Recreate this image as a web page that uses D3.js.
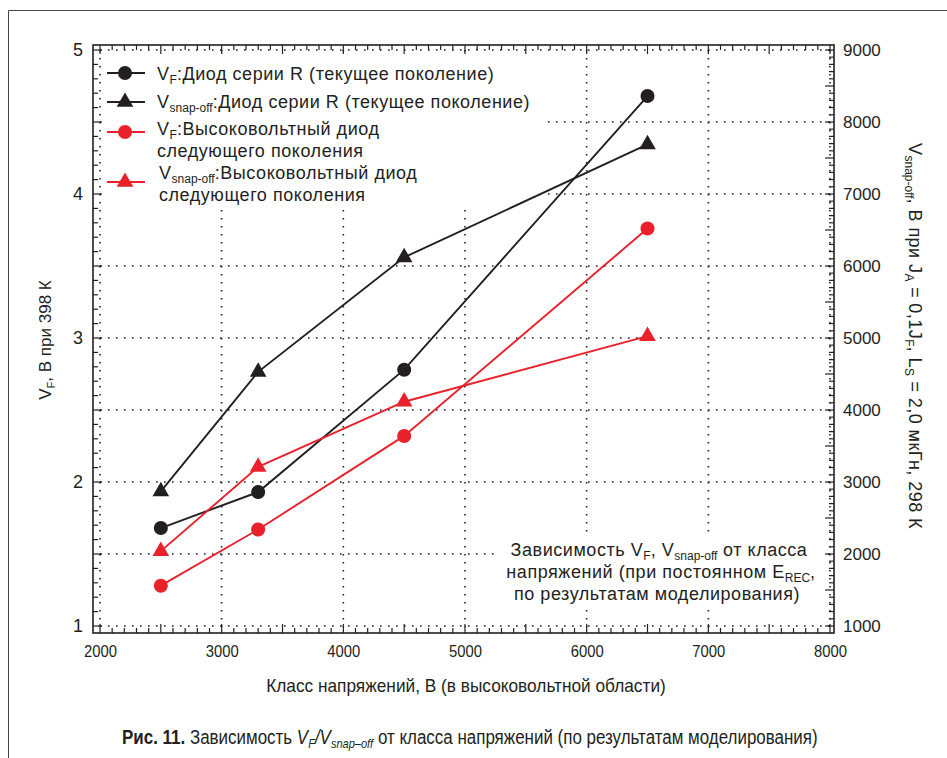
<!DOCTYPE html>
<html>
<head>
<meta charset="utf-8">
<script src="https://cdn.jsdelivr.net/npm/d3@7"></script>
<style>
  html, body { margin: 0; padding: 0; background: #fff; }
  svg { display: block; }
</style>
</head>
<body>
<svg id="chart" width="947" height="758"></svg>
<script>
// Voltage class (x) and the four measured series
const voltageClass = [2500, 3300, 4500, 6500];
const vfSeriesR     = [1.68, 1.93, 2.78, 4.68];   // V_F, left axis
const vsnapSeriesR  = [2870, 4530, 6120, 7690];   // V_snap-off, right axis
const vfNextGen     = [1.28, 1.67, 2.32, 3.76];   // V_F, left axis
const vsnapNextGen  = [2040, 3210, 4115, 5025];   // V_snap-off, right axis

const xTicks      = [2000, 3000, 4000, 5000, 6000, 7000, 8000];
const leftTicks   = [1, 2, 3, 4, 5];
const rightTicks  = [1000, 2000, 3000, 4000, 5000, 6000, 7000, 8000, 9000];

const BLACK = "#231f20";
const RED = "#e8212b";
const FONT = "'Liberation Sans', Arial, sans-serif";

const svg = d3.select("#chart");

// squeeze a text element horizontally to a given width (condensed look)
function condense(sel, width, anchorX, anchorY, align) {
  const node = sel.node();
  const w = node.getComputedTextLength();
  const k = width / w;
  sel.attr("x", 0).attr("y", 0).attr("text-anchor", align || "start")
    .attr("transform", `translate(${anchorX},${anchorY}) scale(${k},1)`);
}

// figure border
svg.append("path")
  .attr("d", "M8.5,760 L8.5,10.5 L950,10.5")
  .attr("fill", "none").attr("stroke", "#444").attr("stroke-width", 1);

// scales
const x  = d3.scaleLinear().domain([2000, 8000]).range([100, 830]);
const yL = d3.scaleLinear().domain([1, 5]).range([626, 50]);
const yR = d3.scaleLinear().domain([1000, 9000]).range([626, 50]);

const frame = { x0: 93, x1: 834, y0: 45, y1: 633 };

// dotted grid
const grid = svg.append("g").attr("stroke", BLACK).attr("stroke-width", 1.6)
  .attr("stroke-dasharray", "1.6,6.4").attr("fill", "none");
d3.range(1, 5.01, 0.5).forEach(v => {
  grid.append("line").attr("x1", x(2000)).attr("x2", x(8000) + 1)
    .attr("y1", yL(v)).attr("y2", yL(v));
});
xTicks.forEach(v => {
  grid.append("line").attr("x1", x(v)).attr("x2", x(v))
    .attr("y1", yL(5)).attr("y2", yL(1) + 1);
});

// white panels under the legend and the note (they hide the grid only)
svg.append("rect").attr("x", 101).attr("y", 53).attr("width", 447).attr("height", 152).attr("fill", "#fff");
svg.append("rect").attr("x", 496).attr("y", 532).attr("width", 328).attr("height", 78).attr("fill", "#fff");

// frame
svg.append("rect")
  .attr("x", frame.x0).attr("y", frame.y0)
  .attr("width", frame.x1 - frame.x0).attr("height", frame.y1 - frame.y0)
  .attr("fill", "none").attr("stroke", BLACK).attr("stroke-width", 1.6);

// inward tick marks on all four sides
const tk = svg.append("g").attr("stroke", BLACK).attr("stroke-width", 1.2);
d3.range(2000, 8001, 100).forEach(v => {
  const len = (v % 500 === 0) ? 9 : 5;
  tk.append("line").attr("x1", x(v)).attr("x2", x(v)).attr("y1", frame.y1).attr("y2", frame.y1 - len);
  tk.append("line").attr("x1", x(v)).attr("x2", x(v)).attr("y1", frame.y0).attr("y2", frame.y0 + len);
});
d3.range(10, 51, 1).forEach(i => {
  const v = i / 10;
  const len = (i % 5 === 0) ? 9 : 5;
  tk.append("line").attr("x1", frame.x0).attr("x2", frame.x0 + len).attr("y1", yL(v)).attr("y2", yL(v));
});
d3.range(1000, 9001, 100).forEach(v => {
  const len = (v % 500 === 0) ? 9 : 5;
  tk.append("line").attr("x1", frame.x1).attr("x2", frame.x1 - len).attr("y1", yR(v)).attr("y2", yR(v));
});

// axis tick labels via d3 axes (no domain line, no tick lines)
const axB = svg.append("g").attr("transform", `translate(0,${frame.y1})`)
  .call(d3.axisBottom(x).tickValues(xTicks).tickSize(0).tickPadding(12).tickFormat(d3.format("d")));
const axL = svg.append("g").attr("transform", `translate(${frame.x0},0)`)
  .call(d3.axisLeft(yL).tickValues(leftTicks).tickSize(0).tickPadding(10).tickFormat(d3.format("d")));
const axR = svg.append("g").attr("transform", `translate(${frame.x1},0)`)
  .call(d3.axisRight(yR).tickValues(rightTicks).tickSize(0).tickPadding(9).tickFormat(d3.format("d")));
[axB, axL, axR].forEach(a => { a.select(".domain").remove(); a.selectAll("text").attr("fill", BLACK); });
axB.selectAll("text").attr("font-family", FONT).attr("font-size", 17)
  .attr("textLength", 33).attr("lengthAdjust", "spacingAndGlyphs");
axL.selectAll("text").attr("font-family", FONT).attr("font-size", 18);
axR.selectAll("text").attr("font-family", FONT).attr("font-size", 17);

// series
const lineL = d3.line().x(d => x(d[0])).y(d => yL(d[1]));
const lineR = d3.line().x(d => x(d[0])).y(d => yR(d[1]));
const series = [
  { vals: vfSeriesR,    axis: "L", color: BLACK, shape: "circle" },
  { vals: vsnapSeriesR, axis: "R", color: BLACK, shape: "triangle" },
  { vals: vfNextGen,    axis: "L", color: RED,   shape: "circle" },
  { vals: vsnapNextGen, axis: "R", color: RED,   shape: "triangle" }
];
const circleSym = d3.symbol().type(d3.symbolCircle).size(155);
const triSym = d3.symbol().type(d3.symbolTriangle).size(120);

series.forEach(s => {
  const pts = voltageClass.map((v, i) => [v, s.vals[i]]);
  const yS = s.axis === "L" ? yL : yR;
  svg.append("path").attr("d", (s.axis === "L" ? lineL : lineR)(pts))
    .attr("fill", "none").attr("stroke", s.color).attr("stroke-width", 1.9);
  svg.append("g").selectAll("path").data(pts).join("path")
    .attr("transform", d => `translate(${x(d[0])},${yS(d[1])})`)
    .attr("d", s.shape === "circle" ? circleSym() : triSym())
    .attr("fill", s.color);
});

// text with subscript pieces: parts = [[text, isSub], ...]
function richText(g, parts, opts) {
  const t = g.append("text")
    .attr("font-family", FONT)
    .attr("font-size", opts.size)
    .attr("letter-spacing", opts.spacing || 0)
    .attr("fill", BLACK)
    .attr("text-anchor", opts.anchor || "start")
    .attr("x", opts.x).attr("y", opts.y);
  if (opts.transform) t.attr("transform", opts.transform);
  parts.forEach(p => {
    const sp = t.append("tspan").text(p[0]);
    if (p[1]) sp.attr("font-size", opts.subSize || Math.round(opts.size * 0.66))
      .attr("letter-spacing", 0).attr("baseline-shift", "-4");
  });
  return t;
}

// legend
const lg = svg.append("g");
const legendRows = [
  { y: 73,  color: BLACK, shape: "circle" },
  { y: 102, color: BLACK, shape: "triangle" },
  { y: 132, color: RED,   shape: "circle" },
  { y: 182, color: RED,   shape: "triangle" }
];
legendRows.forEach(r => {
  lg.append("line").attr("x1", 107).attr("x2", 145).attr("y1", r.y).attr("y2", r.y)
    .attr("stroke", r.color).attr("stroke-width", 1.9);
  lg.append("path").attr("transform", `translate(125,${r.y})`)
    .attr("d", r.shape === "circle" ? circleSym() : triSym()).attr("fill", r.color);
});
const LS = 18, SP = 0.55;
richText(lg, [["V"], ["F", true], [":Диод серии R (текущее поколение)"]], { x: 157, y: 80, size: LS, spacing: SP });
richText(lg, [["V"], ["snap-off", true], [":Диод серии R (текущее поколение)"]], { x: 157, y: 108, size: LS, spacing: SP });
richText(lg, [["V"], ["F", true], [":Высоковольтный диод"]], { x: 157, y: 135, size: LS, spacing: SP });
richText(lg, [["следующего поколения"]], { x: 157, y: 157, size: LS, spacing: SP });
richText(lg, [["V"], ["snap-off", true], [":Высоковольтный диод"]], { x: 159, y: 179, size: LS, spacing: SP });
richText(lg, [["следующего поколения"]], { x: 159, y: 201, size: LS, spacing: SP });

// note in the lower right
const an = svg.append("g");
richText(an, [["Зависимость V"], ["F", true], [", V"], ["snap-off", true], [" от класса"]], { x: 659, y: 556, size: LS, spacing: SP, anchor: "middle" });
richText(an, [["напряжений (при постоянном E"], ["REC", true], [","]], { x: 661, y: 578, size: LS, spacing: SP, anchor: "middle" });
richText(an, [["по результатам моделирования)"]], { x: 657, y: 600, size: LS, spacing: SP, anchor: "middle" });

// axis titles
richText(svg, [["V"], ["F", true], [", В при 398 К"]],
  { x: 0, y: 0, size: 17, anchor: "middle", transform: "translate(51,340) rotate(-90)" });
richText(svg, [["V"], ["snap-off", true], [", В при J"], ["A", true], [" = 0,1J"], ["F", true], [", L"], ["S", true], [" = 2,0 мкГн, 298 К"]],
  { x: 0, y: 0, size: 18, spacing: 0.45, anchor: "middle", transform: "translate(909,336) rotate(90)" });
const xTitle = svg.append("text").attr("font-family", FONT).attr("font-size", 19).attr("fill", BLACK)
  .text("Класс напряжений, В (в высоковольтной области)");
condense(xTitle, 400, 466, 692, "middle");

// figure caption
const cap = svg.append("text").attr("font-family", FONT).attr("font-size", 20).attr("fill", BLACK);
cap.append("tspan").attr("font-weight", "bold").text("Рис. 11.");
cap.append("tspan").text(" Зависимость ");
cap.append("tspan").attr("font-style", "italic").text("V");
cap.append("tspan").attr("font-style", "italic").attr("font-size", 13).attr("baseline-shift", "-4").text("F");
cap.append("tspan").attr("font-style", "italic").text("/V");
cap.append("tspan").attr("font-style", "italic").attr("font-size", 13).attr("baseline-shift", "-4").text("snap–off");
cap.append("tspan").text(" от класса напряжений (по результатам моделирования)");
condense(cap, 696, 122, 744, "start");
</script>
</body>
</html>
